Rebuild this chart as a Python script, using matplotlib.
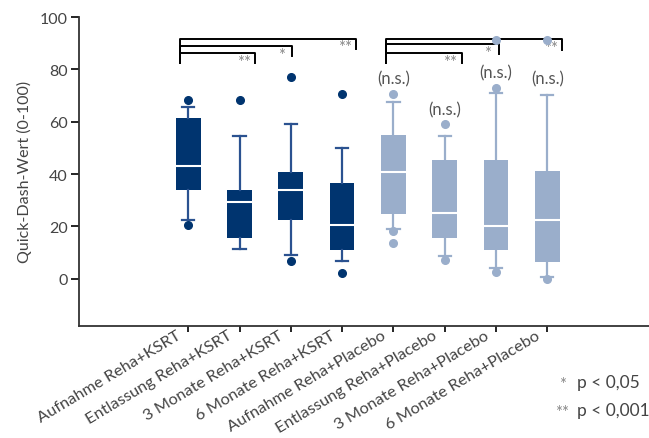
import matplotlib
matplotlib.use("Agg")
import matplotlib.pyplot as plt
from matplotlib.transforms import ScaledTranslation

plt.rcParams['font.family'] = ['Lato', 'DejaVu Sans']

# Gruppen / Zeitpunkte
labels = [
    "Aufnahme Reha+KSRT", "Entlassung Reha+KSRT", "3 Monate Reha+KSRT", "6 Monate Reha+KSRT",
    "Aufnahme Reha+Placebo", "Entlassung Reha+Placebo", "3 Monate Reha+Placebo", "6 Monate Reha+Placebo",
]

# Box-Kennwerte (Quick-Dash-Wert)
q1 = [33.9, 15.5, 22.4, 10.9, 24.8, 15.5, 10.9, 6.4]
med = [43.1, 29.4, 33.8, 20.4, 40.8, 25.1, 20.1, 22.6]
q3 = [61.3, 34.0, 40.9, 36.4, 54.8, 45.2, 45.2, 41.0]
whislo = [22.6, 11.2, 8.9, 6.7, 19.1, 8.6, 4.1, 0.8]
whishi = [65.8, 54.4, 59.0, 49.9, 67.7, 54.4, 70.9, 70.2]
fliers = [
    [68.2, 20.5], [68.2], [77.2, 6.9], [70.5, 2.3],
    [70.7, 18.2, 13.8], [59.0, 7.0], [72.8, 2.4, 91.1], [-0.3, 91.1],
]

# Signifikanz-Klammern: (start, ende, hoehe, text)
brackets_ksrt = [(0.83, 2.31, 86.2, "**"), (0.83, 3.03, 89.0, "*"), (0.83, 4.27, 91.8, "**")]
brackets_plac = [(4.85, 6.33, 86.4, "**"), (4.85, 7.05, 89.6, "*"), (4.85, 8.29, 91.5, "**")]
ns_y = [76.5, 64.7, 78.8, 76.5]

navy = "#00346f"
navy_line = "#2b5290"
light = "#9aaecb"

fig = plt.figure(figsize=(6.49, 4.39), dpi=100)
ax = fig.add_axes([0.1217, 0.2558, 0.878, 0.703])

stats = []
for i in range(8):
    stats.append(dict(q1=q1[i], med=med[i], q3=q3[i], whislo=whislo[i], whishi=whishi[i],
                      fliers=fliers[i], label=labels[i]))

pos = list(range(1, 9))
for grp, col, lcol in [(slice(0, 4), navy, navy_line), (slice(4, 8), light, light)]:
    ax.bxp(stats[grp], positions=pos[grp], widths=0.48, patch_artist=True,
           boxprops=dict(facecolor=col, edgecolor=col, linewidth=0),
           medianprops=dict(color="white", linewidth=1.5),
           whiskerprops=dict(color=lcol, linewidth=1.6),
           capprops=dict(color=lcol, linewidth=1.6),
           capwidths=0.24,
           flierprops=dict(marker="o", markerfacecolor=col, markeredgecolor=col,
                           markersize=5.5, zorder=5))

# Klammern
for brs in (brackets_ksrt, brackets_plac):
    for x0, x1, h, txt in brs:
        drop_l = 82.6
        drop_r = h - 3.9
        ax.plot([x0, x0, x1, x1], [drop_l, h, h, drop_r], color="black", lw=1.4,
                solid_joinstyle="round", zorder=3)
        ax.text(x1 - 0.22, h - 3.4, txt, ha="center", va="center", color="#888888",
                fontsize=12)

for x, y in zip(pos[4:], ns_y):
    ax.text(x, y, "(n.s.)", ha="center", va="center", color="#555555", fontsize=12)

ax.set_xlim(-1.13, 9.98)
ax.set_ylim(-18, 100)
ax.set_yticks([0, 20, 40, 60, 80, 100])
ax.set_xticks(pos)
ax.set_xticklabels([])

# Achsenbeschriftungen schräg, etwas links vom Tick
shift = ScaledTranslation(-12 / 100, -2.5 / 100, fig.dpi_scale_trans)
for x, lab in zip(pos, labels):
    ax.text(x, 0, lab, transform=ax.get_xaxis_transform() + shift,
            rotation=31, ha="right", va="top", rotation_mode="anchor",
            fontsize=11.8, color="#444444", clip_on=False)

ax.tick_params(axis="y", length=6, width=1.2, labelsize=11.5, labelcolor="#444444", pad=2)
ax.tick_params(axis="x", length=4, width=1.2)
ax.spines["top"].set_visible(False)
ax.spines["right"].set_visible(False)
for s in ("left", "bottom"):
    ax.spines[s].set_linewidth(1.3)
    ax.spines[s].set_color("#333333")
ax.set_ylabel("Quick-Dash-Wert (0-100)", fontsize=11.5, color="#444444", labelpad=6)

# Legende der Signifikanzniveaus
fig.text(0.866, 0.124, "*", color="#888888", fontsize=12, ha="center", va="center")
fig.text(0.889, 0.128, "p < 0,05", color="#444444", fontsize=12.5, va="center")
fig.text(0.866, 0.060, "**", color="#888888", fontsize=12, ha="center", va="center")
fig.text(0.889, 0.064, "p < 0,001", color="#444444", fontsize=12.5, va="center")

fig.savefig("out.png", dpi=100)
